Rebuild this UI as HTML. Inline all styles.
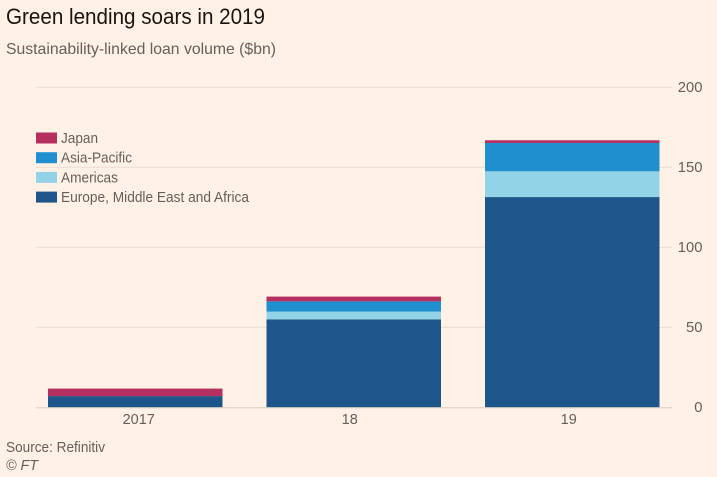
<!DOCTYPE html>
<html lang="en">
<head>
<meta charset="utf-8">
<title>Green lending soars in 2019</title>
<style>
html,body{margin:0;padding:0;background:#fff1e5;}
#chart{display:block;width:717px;height:477px;background:#fff1e5;font-family:"Liberation Sans",sans-serif;}
text{font-family:"Liberation Sans",sans-serif;fill:#66605c;}
</style>
</head>
<body>
<svg id="chart" xmlns="http://www.w3.org/2000/svg" width="717" height="477" viewBox="0 0 717 477">
  <rect x="0" y="0" width="717" height="477" fill="#fff1e5"/>
  <text x="6" y="24" font-size="22" textLength="259" lengthAdjust="spacingAndGlyphs" style="fill:#1a1512">Green lending soars in 2019</text>
  <text x="6" y="54" font-size="16" textLength="270" lengthAdjust="spacingAndGlyphs">Sustainability-linked loan volume ($bn)</text>
  <g id="grid"></g>
  <g id="bars"></g>
  <g id="axis"></g>
  <g id="legend"></g>
  <text x="6" y="452" font-size="14.5" textLength="99" lengthAdjust="spacingAndGlyphs">Source: Refinitiv</text>
  <text x="6" y="470" font-size="14.5" font-style="italic" textLength="32" lengthAdjust="spacingAndGlyphs">© FT</text>
</svg>
<script>
const categories = ['2017', '18', '19'];
const seriesNames = ['Europe, Middle East and Africa', 'Americas', 'Asia-Pacific', 'Japan'];
const europe = [7, 55, 131.4];
const americas = [0, 4.8, 16.1];
const asiaPacific = [0, 6.4, 17.7];
const japan = [4.7, 3, 1.7];
const yTicks = [0, 50, 100, 150, 200];

const seriesValues = [europe, americas, asiaPacific, japan];
const seriesColors = ['#1e568b', '#93d3e8', '#1f8fd0', '#b5305f'];
const NS = 'http://www.w3.org/2000/svg';

function yScale(v) { return 407.3 - v * 1.6; }
function xBand(i) { return 48 + i * 218.5; }
const bandWidth = 174.5;
const labelNudge = [3.5, -4, -3.5];

function make(tag, attrs, parent, txt) {
  const el = document.createElementNS(NS, tag);
  for (const k in attrs) el.setAttribute(k, attrs[k]);
  if (txt !== undefined) el.textContent = txt;
  parent.appendChild(el);
  return el;
}

const gridG = document.getElementById('grid');
const barsG = document.getElementById('bars');
const axisG = document.getElementById('axis');
const legendG = document.getElementById('legend');

yTicks.forEach(function (t) {
  if (t !== 0) {
    const gl = make('line', { x1: 36, x2: 672, y1: yScale(t), y2: yScale(t), stroke: '#e9ddd2', 'stroke-width': 1 }, gridG);
    
    
  }
  const lab = make('text', { x: 702.5, y: yScale(t) + 4.5, 'text-anchor': 'end', 'font-size': 14.8 }, axisG, String(t));
  
  
});

categories.forEach(function (c, i) {
  let base = 0;
  seriesValues.forEach(function (vals, s) {
    const v = vals[i];
    if (v > 0) {
      const r = make('rect', {
        x: xBand(i),
        y: yScale(base + v),
        width: bandWidth,
        height: yScale(base) - yScale(base + v),
        fill: seriesColors[s]
      }, barsG);
      
      
    }
    base += v;
  });
  const lab = make('text', { x: xBand(i) + bandWidth / 2 + labelNudge[i], y: 424, 'text-anchor': 'middle', 'font-size': 14.5 }, axisG, c);
  
  
});

const baseline = make('line', { x1: 36, x2: 672, y1: 407.8, y2: 407.8, stroke: '#d6d0c4', 'stroke-width': 1.2 }, axisG);



const legendWidths = [188, 57, 71, 37];
seriesNames.forEach(function (name, s) {
  const row = 3 - s;
  const y = 132.5 + row * 19.7;
  const sw = make('rect', { x: 36, y: y, width: 21, height: 11, fill: seriesColors[s] }, legendG);
  
  
  const tx = make('text', { x: 61, y: y + 10.5, 'font-size': 14.5, textLength: legendWidths[s], lengthAdjust: 'spacingAndGlyphs' }, legendG, name);
  
  
});
</script>
</body>
</html>
